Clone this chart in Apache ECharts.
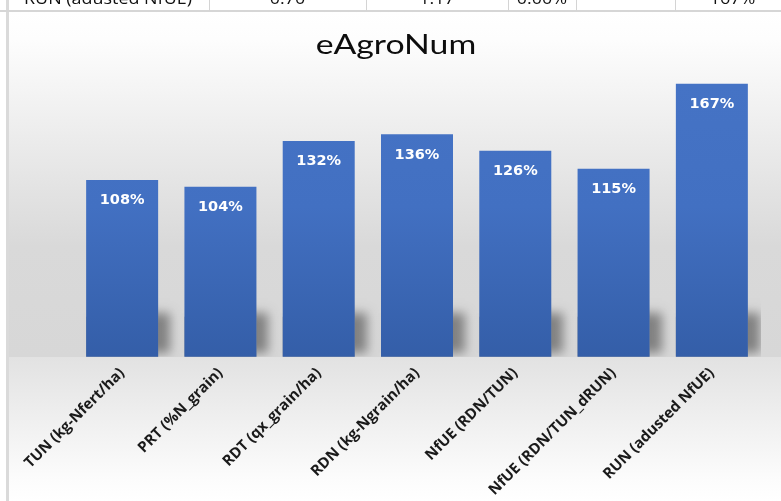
<!DOCTYPE html>
<html>
<head>
<meta charset="utf-8">
<script src="https://cdn.jsdelivr.net/npm/echarts@6/dist/echarts.min.js"></script>
<style>
  html, body { margin: 0; padding: 0; background: #ffffff; }
  #chart { width: 781px; height: 501px; }
</style>
</head>
<body>
<div id="chart"></div>
<script>
// Indicator names and their ratios (in %)
const categories = [
  'TUN (kg-Nfert/ha)',
  'PRT (%N_grain)',
  'RDT (qx_grain/ha)',
  'RDN (kg-Ngrain/ha)',
  'NfUE (RDN/TUN)',
  'NfUE (RDN/TUN_dRUN)',
  'RUN (adusted NfUE)'
];
const ratios = [108, 104, 132, 136, 126, 115, 167];

// Last spreadsheet row, shown just above the chart frame
const tableRow = ['RUN (adusted NfUE)', '0.70', '1.17', '0.00%', '', '167%'];
const tableCells = [[7, 209], [209, 366], [366, 508], [508, 576], [576, 675], [675, 790]];

const BAR_W = 72;

const chart = echarts.init(document.getElementById('chart'));

// Spreadsheet strip: cell texts and grid lines
const sheetGraphics = [];
tableRow.forEach((txt, i) => {
  const [a, b] = tableCells[i];
  sheetGraphics.push({
    type: 'rect', shape: { x: b, y: 0, width: 1, height: 11 },
    style: { fill: '#d4d4d4' }, z: 1
  });
  if (txt) {
    sheetGraphics.push({
      type: 'text', x: (a + b) / 2, y: 7, scaleX: 1.12,
      style: {
        text: txt, fill: '#111', font: '16px "Open Sans"',
        textAlign: 'center', textVerticalAlign: 'bottom'
      }, z: 1
    });
  }
});

chart.setOption({
  backgroundColor: '#ffffff',
  animation: false,
  graphic: [
    // back wall
    {
      type: 'rect', shape: { x: 9, y: 12, width: 772, height: 345 },
      style: {
        fill: {
          type: 'linear', x: 0, y: 0, x2: 0, y2: 1,
          colorStops: [
            { offset: 0, color: '#ffffff' },
            { offset: 0.08, color: '#fdfdfd' },
            { offset: 0.68, color: '#d9d9d9' },
            { offset: 1, color: '#d7d7d7' }
          ]
        }
      }, z: 0
    },
    // floor
    {
      type: 'rect', shape: { x: 9, y: 357, width: 772, height: 144 },
      style: {
        fill: {
          type: 'linear', x: 0, y: 0, x2: 0, y2: 1,
          colorStops: [
            { offset: 0, color: '#e2e2e2' },
            { offset: 0.85, color: '#fcfcfc' },
            { offset: 1, color: '#ffffff' }
          ]
        }
      }, z: 0
    },
    // frame edges
    { type: 'rect', shape: { x: 6, y: 0, width: 3, height: 501 }, style: { fill: '#dadada' }, z: 1 },
    { type: 'rect', shape: { x: 0, y: 10, width: 781, height: 2 }, style: { fill: '#d6d6d6' }, z: 1 },
    ...sheetGraphics,
    // chart title
    {
      type: 'text', x: 396, y: 46, scaleX: 1.3,
      style: {
        text: 'eAgroNum', fill: '#0d0d0d', font: '26px Lato',
        textAlign: 'center', textVerticalAlign: 'middle'
      }, z: 3
    }
  ],
  grid: { left: 73, right: 20, top: 62.4, bottom: 144.3 },
  xAxis: {
    type: 'category',
    data: categories,
    axisLine: { show: false },
    axisTick: { show: false },
    axisLabel: {
      interval: 0, rotate: 45, margin: 14,
      color: '#1a1a1a', fontFamily: 'Open Sans', fontWeight: 'bold', fontSize: 15
    }
  },
  yAxis: {
    type: 'value', min: 0, max: 180, show: false,
    splitLine: { show: false }
  },
  series: [
    {
      // soft shadows cast by the bars onto the back wall
      type: 'custom',
      z: 1,
      clip: true,
      silent: true,
      data: ratios.map((v, i) => [i, v]),
      renderItem: (params, api) => {
        const base = api.coord([api.value(0), 0]);
        return {
          type: 'rect',
          shape: { x: base[0] - BAR_W / 2, y: base[1] - 40, width: BAR_W, height: 40 },
          style: {
            fill: '#9a9a9a',
            shadowBlur: 10,
            shadowColor: 'rgba(0,0,0,0.4)',
            shadowOffsetX: 12,
            shadowOffsetY: -4
          }
        };
      }
    },
    {
      type: 'bar',
      z: 2,
      data: ratios,
      barWidth: BAR_W,
      itemStyle: {
        color: {
          type: 'linear', x: 0, y: 84, x2: 0, y2: 357, global: true,
          colorStops: [
            { offset: 0, color: '#4573c5' },
            { offset: 0.45, color: '#4270c2' },
            { offset: 1, color: '#345ea8' }
          ]
        }
      },
      label: {
        show: true, position: 'insideTop', distance: 13,
        formatter: '{c}%',
        color: '#ffffff', fontFamily: 'DejaVu Sans', fontWeight: 'bold', fontSize: 14.5
      }
    }
  ]
});
</script>
</body>
</html>
